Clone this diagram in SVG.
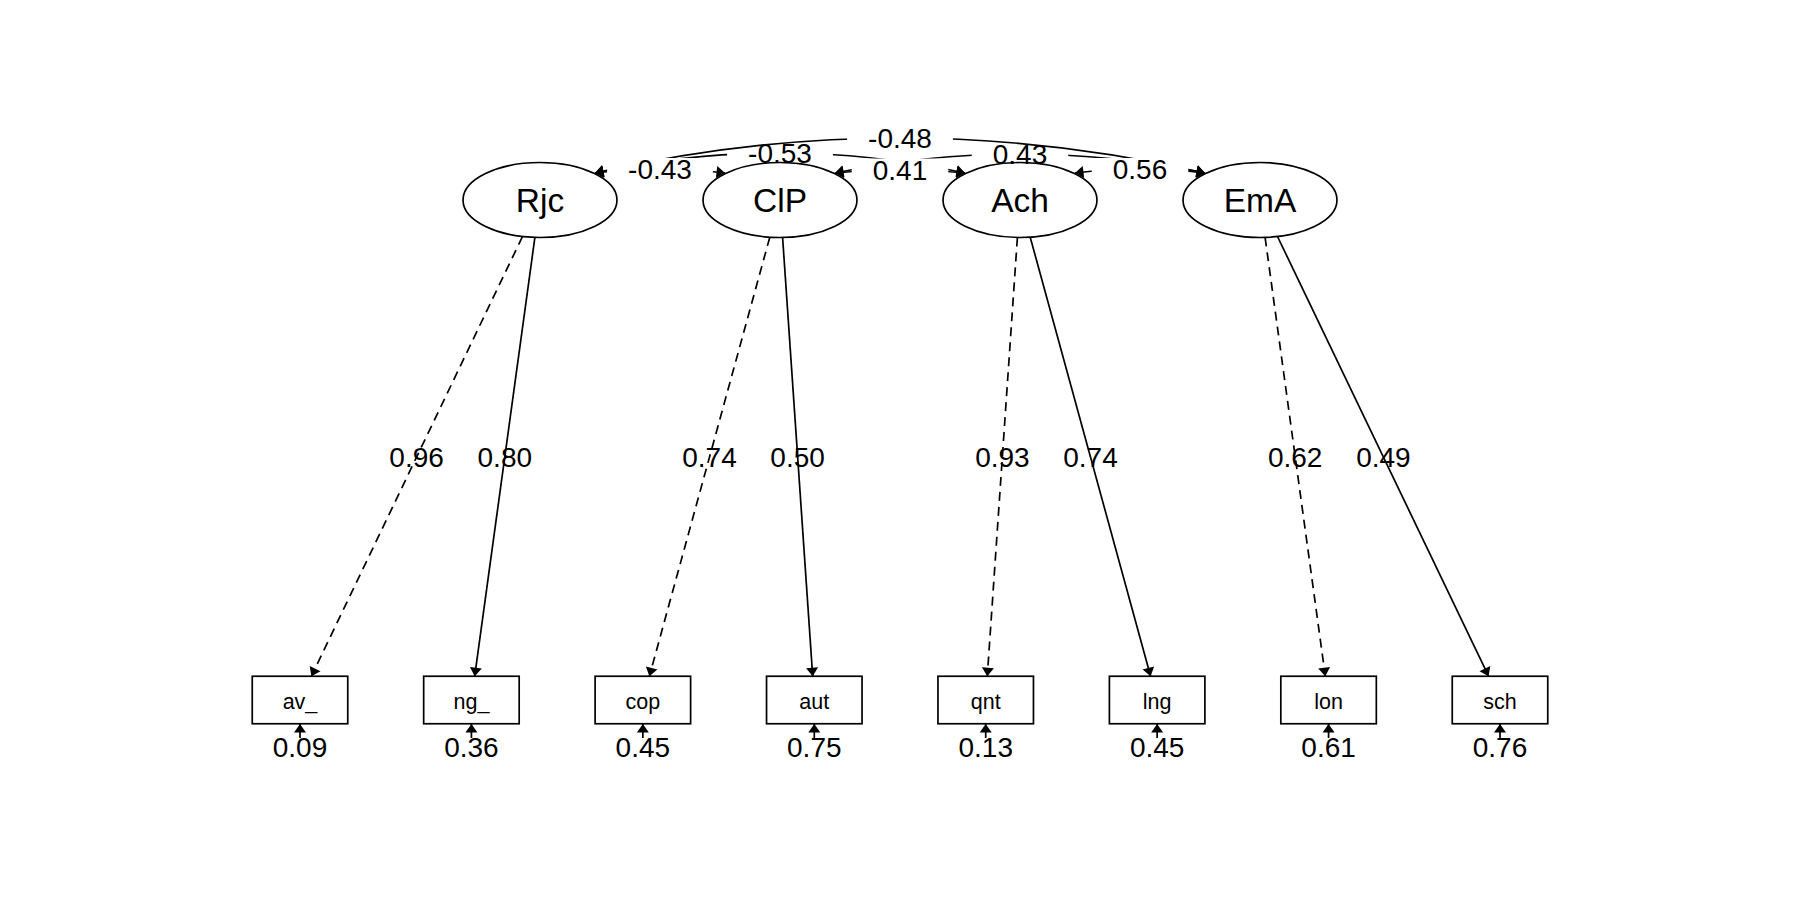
<svg xmlns="http://www.w3.org/2000/svg" width="1800" height="900" viewBox="0 0 1800 900">
<defs>
<marker id="ah" viewBox="-10 -7 12 14" refX="0" refY="0" markerWidth="12" markerHeight="14" markerUnits="userSpaceOnUse" orient="auto-start-reverse">
<path d="M0,0 L-8.5,-6 L-8.5,6 Z" fill="#000" stroke="none"/>
</marker>
<style>
.lat{fill:#fff;stroke:#000;stroke-width:1.7}
.man{fill:#fff;stroke:#000;stroke-width:1.7}
.latt{font-family:"Liberation Sans",Arial,sans-serif;font-size:33.5px;text-anchor:middle;fill:#000}
.mant{font-family:"Liberation Sans",Arial,sans-serif;font-size:21.5px;text-anchor:middle;fill:#000}
.lbl{font-family:"Liberation Sans",Arial,sans-serif;font-size:28px;text-anchor:middle;fill:#000}
.e{fill:none;stroke:#000;stroke-width:1.7;marker-end:url(#ah)}
.d{stroke-dasharray:9 6}
.c{fill:none;stroke:#000;stroke-width:1.7;marker-start:url(#ah);marker-end:url(#ah)}
.bg{fill:#fff;stroke:none}
</style>
</defs>
<rect x="0" y="0" width="1800" height="900" fill="#fff"/>
<g id="node-Rjc"><ellipse class="lat" cx="540" cy="200" rx="77" ry="37.5"/><text class="latt" x="540" y="212">Rjc</text></g>
<g id="node-ClP"><ellipse class="lat" cx="780" cy="200" rx="77" ry="37.5"/><text class="latt" x="780" y="212">ClP</text></g>
<g id="node-Ach"><ellipse class="lat" cx="1020" cy="200" rx="77" ry="37.5"/><text class="latt" x="1020" y="212">Ach</text></g>
<g id="node-EmA"><ellipse class="lat" cx="1260" cy="200" rx="77" ry="37.5"/><text class="latt" x="1260" y="212">EmA</text></g>
<g id="node-av_"><rect class="man" x="252.25" y="676.25" width="95.5" height="47.5"/><text class="mant" x="300" y="708.5">av_</text></g>
<g id="node-ng_"><rect class="man" x="423.68" y="676.25" width="95.5" height="47.5"/><text class="mant" x="471.43" y="708.5">ng_</text></g>
<g id="node-cop"><rect class="man" x="595.11" y="676.25" width="95.5" height="47.5"/><text class="mant" x="642.86" y="708.5">cop</text></g>
<g id="node-aut"><rect class="man" x="766.54" y="676.25" width="95.5" height="47.5"/><text class="mant" x="814.29" y="708.5">aut</text></g>
<g id="node-qnt"><rect class="man" x="937.96" y="676.25" width="95.5" height="47.5"/><text class="mant" x="985.71" y="708.5">qnt</text></g>
<g id="node-lng"><rect class="man" x="1109.39" y="676.25" width="95.5" height="47.5"/><text class="mant" x="1157.14" y="708.5">lng</text></g>
<g id="node-lon"><rect class="man" x="1280.82" y="676.25" width="95.5" height="47.5"/><text class="mant" x="1328.57" y="708.5">lon</text></g>
<g id="node-sch"><rect class="man" x="1452.25" y="676.25" width="95.5" height="47.5"/><text class="mant" x="1500" y="708.5">sch</text></g>
<g id="connectors">
<path class="e d" d="M522.5,236.5 L311.4,676.2"/>
<path class="e" d="M534.9,237.4 L474.7,676.2"/>
<path class="e d" d="M769.8,237.2 L649.4,676.2"/>
<path class="e" d="M782.6,237.5 L812.7,676.2"/>
<path class="e d" d="M1017.4,237.5 L987.3,676.2"/>
<path class="e" d="M1030.2,237.2 L1150.6,676.2"/>
<path class="e d" d="M1265.1,237.4 L1325.3,676.2"/>
<path class="e" d="M1277.5,236.5 L1488.6,676.2"/>
<text class="lbl" x="416.6" y="467">0.96</text>
<text class="lbl" x="504.8" y="467">0.80</text>
<text class="lbl" x="709.5" y="467">0.74</text>
<text class="lbl" x="797.6" y="467">0.50</text>
<text class="lbl" x="1002.4" y="467">0.93</text>
<text class="lbl" x="1090.5" y="467">0.74</text>
<text class="lbl" x="1295.2" y="467">0.62</text>
<text class="lbl" x="1383.4" y="467">0.49</text>
<path class="e" d="M300,738 L300,724"/>
<path class="e" d="M471.43,738 L471.43,724"/>
<path class="e" d="M642.86,738 L642.86,724"/>
<path class="e" d="M814.29,738 L814.29,724"/>
<path class="e" d="M985.71,738 L985.71,724"/>
<path class="e" d="M1157.14,738 L1157.14,724"/>
<path class="e" d="M1328.57,738 L1328.57,724"/>
<path class="e" d="M1500,738 L1500,724"/>
<text class="lbl" x="300" y="757">0.09</text>
<text class="lbl" x="471.43" y="757">0.36</text>
<text class="lbl" x="642.86" y="757">0.45</text>
<text class="lbl" x="814.29" y="757">0.75</text>
<text class="lbl" x="985.71" y="757">0.13</text>
<text class="lbl" x="1157.14" y="757">0.45</text>
<text class="lbl" x="1328.57" y="757">0.61</text>
<text class="lbl" x="1500" y="757">0.76</text>
<path class="c" d="M595,173 Q780,133 965,173"/>
<rect class="bg" x="727.1" y="142" width="105.8" height="16"/>
<text class="lbl" x="780" y="163.3">-0.53</text>
<path class="c" d="M835,173 Q1020,135 1205,173"/>
<rect class="bg" x="971.75" y="143" width="96.5" height="16"/>
<text class="lbl" x="1020" y="164">0.43</text>
<path class="c" d="M595,173 Q900,103 1205,173"/>
<rect class="bg" x="847.1" y="127" width="105.8" height="16"/>
<text class="lbl" x="900" y="148">-0.48</text>
<path class="c" d="M595,173 Q660,165 725,173"/>
<rect class="bg" x="607.1" y="158" width="105.8" height="16"/>
<text class="lbl" x="660" y="179">-0.43</text>
<path class="c" d="M835,173 Q900,166 965,173"/>
<rect class="bg" x="851.75" y="158.5" width="96.5" height="16"/>
<text class="lbl" x="900" y="179.5">0.41</text>
<path class="c" d="M1075,173 Q1140,165 1205,173"/>
<rect class="bg" x="1091.75" y="158" width="96.5" height="16"/>
<text class="lbl" x="1140" y="179">0.56</text>
</g>
</svg>
